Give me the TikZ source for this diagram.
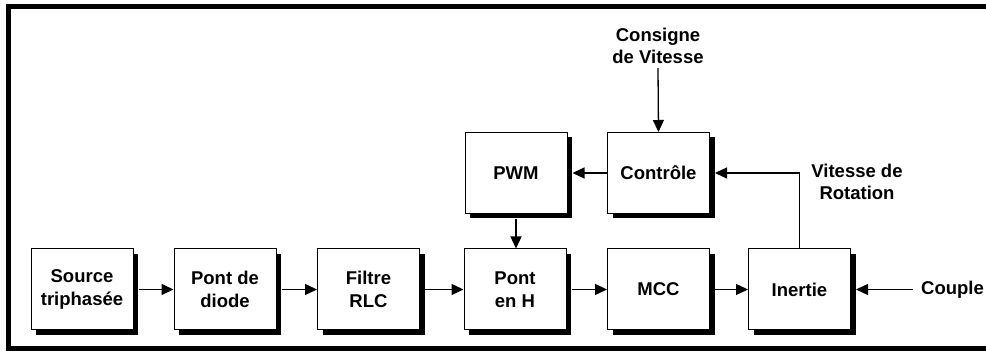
\documentclass[tikz,border=0pt]{standalone}
\usepackage{fontspec}
\setmainfont{Liberation Sans}
\usetikzlibrary{arrows.meta,positioning}
\begin{document}
\begin{tikzpicture}[x=1pt,y=1pt,
  blk/.style={draw=black,line width=1pt,fill=white,minimum width=102pt,minimum height=81pt,
    inner sep=0pt,align=center,font=\bfseries\fontsize{18.5}{22.5}\selectfont,
    preaction={draw=none,fill=black,transform canvas={shift={(5pt,-5pt)}}}},
  lbl/.style={align=center,inner sep=0pt,font=\bfseries\fontsize{18.5}{22.5}\selectfont},
  arr/.style={line width=1.3pt,-{Triangle[length=12pt,width=11pt]}},
  ln/.style={line width=1.3pt}]
\useasboundingbox (0,0) rectangle (986,352);
\draw[line width=5pt] (990,345.5) -- (8.5,345.5) -- (8.5,3.5) -- (990,3.5);
\node[blk] (src) at (82,62.5) {Source\\triphasée};
\node[blk] (pd) at (225,62.5) {Pont de\\diode};
\node[blk] (rlc) at (368.5,62.5) {Filtre\\RLC};
\node[blk] (ph) at (515,62.5) {Pont\\en H};
\node[blk] (mcc) at (658.5,62.5) {MCC};
\node[blk] (in) at (799.5,62.5) {Inertie};
\node[blk] (pwm) at (516,179) {PWM};
\node[blk] (ctl) at (658.5,179) {Contrôle};
\node[lbl] (cons) at (658,306) {Consigne\\de Vitesse};
\node[lbl] (vit) at (857,170) {Vitesse de\\Rotation};
\node[lbl,anchor=west] (cpl) at (921,62.5) {Couple};
\coordinate (fb) at (in.north |- ctl.east);
\draw[arr] ([xshift=5pt]src.east) -- (pd.west);
\draw[arr] ([xshift=5pt]pd.east) -- (rlc.west);
\draw[arr] ([xshift=5pt]rlc.east) -- (ph.west);
\draw[arr] ([xshift=5pt]ph.east) -- (mcc.west);
\draw[arr] ([xshift=5pt]mcc.east) -- (in.west);
\draw[arr] ([xshift=-8pt]cpl.west) -- ([xshift=5pt]in.east);
\draw[arr] (ctl.west) -- ([xshift=5pt]pwm.east);
\draw[arr] ([yshift=-4pt]cons.south) -- (ctl.north);
\draw[arr] ([yshift=-5pt]pwm.south) -- (ph.north -| pwm.south);
\draw[arr] (in.north) -- (fb) -- ([xshift=5pt]ctl.east);
\end{tikzpicture}
\end{document}
